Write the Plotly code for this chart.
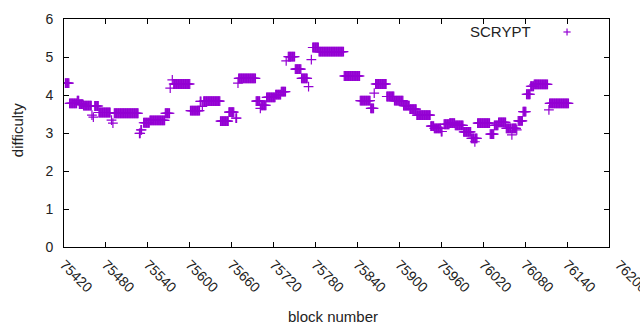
import plotly.graph_objects as go

# Run-length data: first block, last block, difficulty
run_start = [75422, 75428, 75439, 75442, 75448, 75460, 75462, 75464, 75470, 75488,
             75490, 75492, 75528, 75530, 75534, 75543, 75565, 75572, 75575, 75577,
             75601, 75615, 75618, 75620, 75644, 75656, 75666, 75669, 75670, 75695,
             75701, 75702, 75710, 75723, 75731, 75738, 75741, 75751, 75760, 75770,
             75774, 75776, 75785, 75821, 75844, 75859, 75864, 75866, 75882, 75893,
             75906, 75915, 75925, 75945, 75950, 75960, 75964, 75972, 75980, 75992,
             76003, 76008, 76009, 76012, 76030, 76036, 76042, 76053, 76061, 76062,
             76068, 76070, 76077, 76082, 76088, 76093, 76114, 76115]
run_end   = [75427, 75438, 75441, 75447, 75459, 75460, 75462, 75469, 75486, 75488,
             75490, 75526, 75529, 75531, 75542, 75564, 75571, 75572, 75575, 75600,
             75614, 75616, 75618, 75643, 75655, 75663, 75667, 75669, 75694, 75700,
             75701, 75709, 75722, 75730, 75737, 75738, 75750, 75759, 75768, 75770,
             75774, 75784, 75820, 75843, 75858, 75863, 75864, 75881, 75892, 75905,
             75914, 75924, 75944, 75949, 75959, 75961, 75971, 75979, 75991, 76002,
             76007, 76008, 76011, 76029, 76035, 76041, 76052, 76060, 76061, 76067,
             76068, 76076, 76081, 76087, 76092, 76112, 76114, 76142]
run_value = [4.31, 3.78, 3.85, 3.76, 3.72, 3.47, 3.42, 3.71, 3.54, 3.34,
             3.26, 3.52, 2.99, 3.08, 3.27, 3.33, 3.52, 4.18, 4.40, 4.29,
             3.59, 3.83, 3.70, 3.84, 3.31, 3.55, 3.39, 4.31, 4.44, 3.84,
             3.65, 3.73, 3.94, 4.01, 4.09, 4.90, 5.01, 4.68, 4.44, 4.22,
             4.93, 5.25, 5.14, 4.50, 3.85, 3.65, 4.05, 4.29, 3.96, 3.85,
             3.72, 3.63, 3.47, 3.18, 3.12, 3.04, 3.23, 3.26, 3.20, 3.03,
             2.86, 2.77, 2.86, 3.26, 2.97, 3.20, 3.28, 3.12, 2.95, 3.12,
             3.08, 3.32, 3.56, 4.02, 4.23, 4.28, 3.61, 3.78]

x_ticks = [75420, 75480, 75540, 75600, 75660, 75720, 75780, 75840,
           75900, 75960, 76020, 76080, 76140, 76200]
y_ticks = [0, 1, 2, 3, 4, 5, 6]

series_name = "SCRYPT"
color = "#9400D3"

blocks, diffs = [], []
for s, e, v in zip(run_start, run_end, run_value):
    for b in range(s, e + 1):
        blocks.append(b)
        diffs.append(v)

fig = go.Figure()
fig.add_trace(go.Scatter(
    x=blocks, y=diffs, mode="markers", name=series_name,
    marker=dict(symbol="cross-thin", size=7, line=dict(width=1.2, color=color), color=color),
    showlegend=False, hoverinfo="skip",
))

axis_common = dict(showgrid=False, zeroline=False, showline=True, linecolor="black",
                   linewidth=1, ticks="inside", ticklen=5, tickcolor="black",
                   mirror="allticks")

fig.update_xaxes(range=[x_ticks[0], x_ticks[-1]], tickvals=x_ticks,
                 ticktext=[str(t) for t in x_ticks], tickangle=45,
                 ticklabelstandoff=3, **axis_common)
fig.update_yaxes(range=[y_ticks[0], y_ticks[-1]], tickvals=y_ticks,
                 ticktext=[str(t) for t in y_ticks], ticklabelstandoff=7, **axis_common)

# last tick label (runs past the right edge, as in the original)
fig.add_annotation(text=str(x_ticks[-1]), xref="x", yref="paper", x=x_ticks[-1], y=-0.03,
                   xanchor="left", yanchor="top", textangle=45, showarrow=False,
                   font=dict(size=14, color="#222"))

# legend (gnuplot style: text then sample)
fig.add_annotation(text=series_name, xref="paper", yref="paper", x=0.860, y=0.945,
                   xanchor="right", yanchor="middle", showarrow=False,
                   font=dict(size=15, color="#222"))
lx, ly = 0.923, 0.943
fig.add_shape(type="line", xref="paper", yref="paper", x0=lx - 0.0066, x1=lx + 0.0066,
              y0=ly, y1=ly, line=dict(color=color, width=1.2))
fig.add_shape(type="line", xref="paper", yref="paper", x0=lx, x1=lx,
              y0=ly - 0.0155, y1=ly + 0.0155, line=dict(color=color, width=1.2))

# axis titles
fig.add_annotation(text="block number", xref="paper", yref="paper", x=0.493, y=-0.305,
                   xanchor="center", yanchor="middle", showarrow=False,
                   font=dict(size=15, color="#222"))
fig.add_annotation(text="difficulty", xref="paper", yref="paper", x=-0.086, y=0.513,
                   xanchor="center", yanchor="middle", textangle=-90, showarrow=False,
                   font=dict(size=15, color="#222"))

fig.update_layout(
    width=640, height=330,
    margin=dict(l=64, r=31, t=19, b=83),
    paper_bgcolor="white", plot_bgcolor="white",
    font=dict(family="Liberation Sans, Arial, sans-serif", size=14, color="#222"),
)

fig.write_html("out.html", config={"displayModeBar": False},
               post_script="document.body.style.margin='0';document.body.style.overflow='hidden';")
